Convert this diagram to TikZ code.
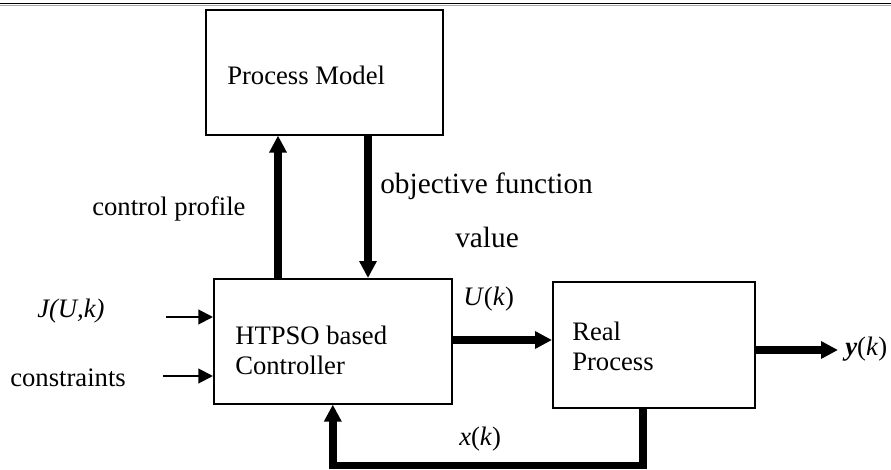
\documentclass[tikz,border=0pt]{standalone}
\usepackage{fontspec}
\setmainfont{Liberation Serif}
\usetikzlibrary{arrows.meta}
\begin{document}
\begin{tikzpicture}[x=0.75pt,y=-0.75pt,
  block/.style={draw,line width=1.2pt,inner sep=0pt,anchor=north west},
  lbl/.style={inner sep=0pt,anchor=base west,font=\fontsize{20}{24}\selectfont},
  biglbl/.style={lbl,font=\fontsize{22}{26}\selectfont},
  thinflow/.style={line width=1.5pt,-{Triangle[length=11pt,width=11pt]}},
  thickflow/.style={line width=5.8pt,line join=miter,-{Triangle[length=12.75pt,width=12.5pt]}},
]
\useasboundingbox (0,0) rectangle (891,470);

% header rule
\draw[line width=1.1pt] (0,3.5) -- (891,3.5);
\draw[line width=0.6pt,gray!70] (0,5.6) -- (891,5.6);

% blocks
\node[block,minimum width=177.75pt,minimum height=93.75pt] (pm) at (205,9) {};
\node[block,minimum width=178.5pt,minimum height=93.75pt] (ctrl) at (213,278) {};
\node[block,minimum width=151.5pt,minimum height=94.5pt] (rp) at (552,281) {};

% block texts
\node[lbl] (pmtxt) at (227,85) {Process Model};
\node[lbl] (ctrltxta) at (235,344) {HTPSO based};
\node[lbl] (ctrltxtb) at (235,374) {Controller};
\node[lbl] (rptxta) at (572,340) {Real};
\node[lbl] (rptxtb) at (572,370) {Process};

% signal labels
\node[lbl] (jlbl) at (37,317) {\textit{J(U,k)}};
\node[lbl] (clbl) at (10,386) {constraints};
\node[lbl] (ulbl) at (463,305) {\textit{U}(\textit{k})};
\node[lbl] (xlbl) at (459,445) {\textit{x}(\textit{k})};
\node[lbl] (ylbl) at (845,355) {\textbf{\textit{y}}(\textit{k})};
\node[lbl] (cplbl) at (92,215) {control profile};
\node[biglbl] (oflbl) at (380,194) {objective function};
\node[biglbl] (vlbl) at (455,247) {value};

% free ends and connector columns
\coordinate (jin) at (166,317);
\coordinate (cin) at (163,376);
\coordinate (yout) at (838,350);
\coordinate (upx) at (278,0);
\coordinate (downx) at (368,0);
\coordinate (fbx) at (643,0);
\coordinate (fbbottom) at (643,465.5);

% inputs
\draw[thinflow] (jin) -- (jin -| ctrl.west);
\draw[thinflow] (cin) -- (cin -| ctrl.west);

% controller <-> model
\draw[thickflow] (upx |- ctrl.north) -- (upx |- pm.south);
\draw[thickflow] (downx |- pm.south) -- (downx |- ctrl.north);

% control action and output
\draw[thickflow] (ctrl.east |- 0,340) -- (rp.west |- 0,340);
\draw[thickflow] (rp.east |- yout) -- (yout);

% state feedback
\draw[thickflow] (fbx |- rp.south) -- (fbbottom) -- (fbbottom -| ctrl.south) -- (ctrl.south);
\end{tikzpicture}
\end{document}
